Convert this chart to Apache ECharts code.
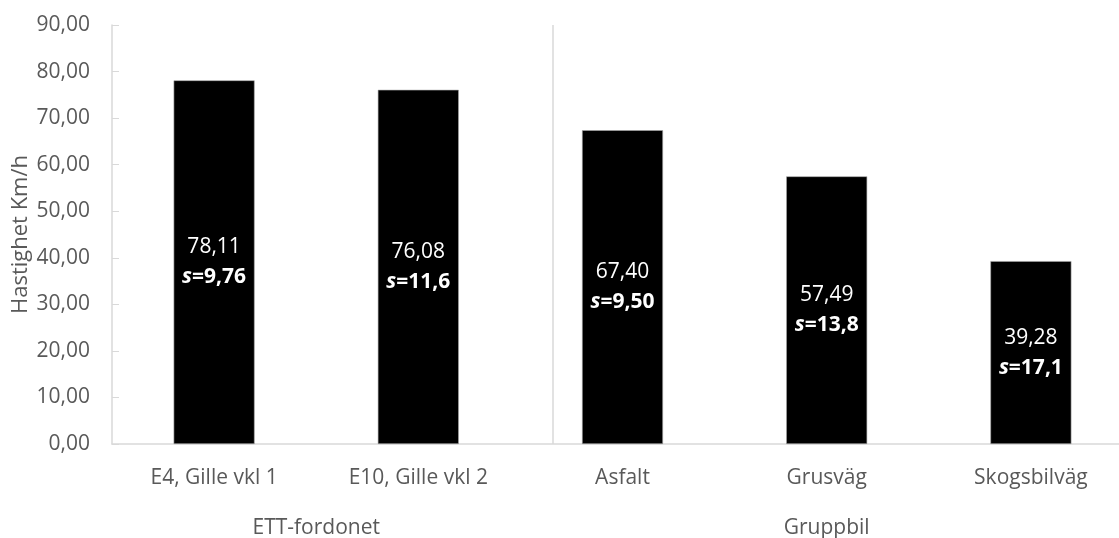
<!DOCTYPE html>
<html>
<head>
<meta charset="utf-8">
<script src="https://cdn.jsdelivr.net/npm/echarts@6/dist/echarts.min.js"></script>
<style>
  html, body { margin: 0; padding: 0; background: #fff; }
  #chart { width: 1119px; height: 538px; }
</style>
</head>
<body>
<div id="chart"></div>
<script>
// Mean speed per road type, with standard deviation shown inside each bar
const categories = ['E4, Gille vkl 1', 'E10, Gille vkl 2', 'Asfalt', 'Grusväg', 'Skogsbilväg'];
const speeds = [78.11, 76.08, 67.40, 57.49, 39.28];
const stdDevs = ['9,76', '11,6', '9,50', '13,8', '17,1'];
const groups = ['ETT-fordonet', 'Gruppbil'];
const groupSizes = [2, 3];
const yAxisTitle = 'Hastighet Km/h';

const FONT = '"Open Sans", "DejaVu Sans", sans-serif';
const TEXT = '#595959';
const AXIS = '#d9d9d9';

const fmt = v => v.toFixed(2).replace('.', ',');

// centre of each group on a 0..N scale spanning the category axis
const groupCenters = [];
let start = 0;
groupSizes.forEach(n => { groupCenters.push(start + n / 2); start += n; });
const dividerPos = 2.16;

const chart = echarts.init(document.getElementById('chart'));
chart.setOption({
  animation: false,
  textStyle: { fontFamily: FONT },
  grid: { left: 112, top: 25, width: 1021, height: 419, outerBoundsMode: 'none' },
  xAxis: [
    {
      type: 'category',
      position: 'bottom',
      data: categories,
      axisLine: { lineStyle: { color: AXIS, width: 1.5 } },
      axisTick: { show: false },
      axisLabel: { color: TEXT, fontSize: 21, margin: 24, fontFamily: FONT }
    },
    {
      // divider between the two vehicle groups
      type: 'value', position: 'bottom', min: 0, max: categories.length,
      axisLine: { show: false },
      axisLabel: { show: false },
      splitLine: { show: false },
      axisTick: { show: true, inside: true, length: 419, customValues: [dividerPos],
                  lineStyle: { color: AXIS, width: 1.5 } }
    },
    {
      // group labels under the category labels
      type: 'value', position: 'bottom', min: 0, max: categories.length,
      axisLine: { show: false },
      axisTick: { show: false },
      splitLine: { show: false },
      axisLabel: {
        color: TEXT, fontSize: 21, margin: 74, fontFamily: FONT,
        customValues: groupCenters,
        formatter: v => groups[groupCenters.indexOf(v)] || ''
      }
    }
  ],
  yAxis: {
    type: 'value', min: 0, max: 90, interval: 10,
    name: yAxisTitle,
    nameLocation: 'middle',
    nameGap: 80,
    nameMoveOverlap: false,
    nameTextStyle: { color: TEXT, fontSize: 22, fontFamily: FONT },
    axisLine: { show: true, lineStyle: { color: AXIS, width: 1.5 } },
    axisTick: { show: true, inside: true, length: 7, lineStyle: { color: AXIS } },
    splitLine: { show: false },
    axisLabel: { color: TEXT, fontSize: 21, margin: 22, fontFamily: FONT, formatter: fmt }
  },
  series: [{
    type: 'bar',
    data: speeds,
    barWidth: 81,
    itemStyle: { color: '#000', borderColor: '#a6a6a6', borderWidth: 0.6 },
    label: {
      show: true,
      position: 'inside',
      formatter: p => `{v|${fmt(speeds[p.dataIndex])}}\n{s|s}{b|=${stdDevs[p.dataIndex]}}`,
      rich: {
        v: { color: '#fff', fontSize: 21, lineHeight: 30, fontFamily: FONT },
        s: { color: '#fff', fontSize: 21, lineHeight: 30, fontStyle: 'italic', fontWeight: 'bold', fontFamily: FONT },
        b: { color: '#fff', fontSize: 21, lineHeight: 30, fontWeight: 'bold', fontFamily: FONT }
      }
    }
  }]
});
</script>
</body>
</html>
